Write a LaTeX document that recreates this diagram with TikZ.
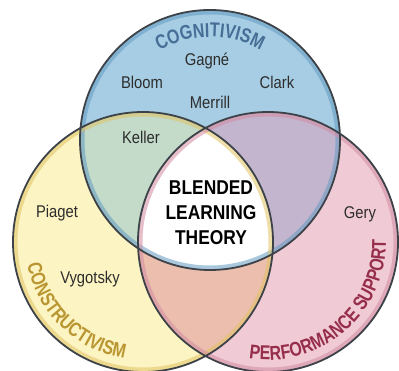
\documentclass[tikz,border=0pt]{standalone}
\usepackage{fontspec}
\usetikzlibrary{decorations.text}
\newfontfamily\condfont{Liberation Sans}[FakeStretch=0.87]
\newfontfamily\titlefont{Liberation Sans}[FakeStretch=0.8]

\definecolor{cogfill}{RGB}{166,205,227}
\definecolor{confill}{RGB}{252,244,194}
\definecolor{perffill}{RGB}{240,203,214}
\definecolor{greenfill}{RGB}{195,219,200}
\definecolor{purplefill}{RGB}{196,181,206}
\definecolor{orangefill}{RGB}{236,190,174}
\definecolor{cogrim}{RGB}{100,155,195}
\definecolor{conrim}{RGB}{225,195,100}
\definecolor{perfrim}{RGB}{210,140,162}
\definecolor{outlinegray}{RGB}{60,66,72}
\definecolor{namegray}{RGB}{45,45,45}
\definecolor{cogtext}{RGB}{70,110,150}
\definecolor{context}{RGB}{185,150,50}
\definecolor{perftext}{RGB}{150,45,75}

\begin{document}
\begin{tikzpicture}[x=1pt,y=1pt,
  person/.style={font=\condfont\fontsize{17}{18}\selectfont, text=namegray, anchor=base, inner sep=0pt},
  blendtext/.style={font=\condfont\bfseries\fontsize{20}{25}\selectfont, align=center, inner sep=0pt},
  rimline/.style={line width=9pt, opacity=0.55}]
\clip (0,0) rectangle (399,370);

\coordinate (cog) at (210,230);
\coordinate (con) at (143,128);
\coordinate (perf) at (268,128);

% circles
\fill[confill] (con) circle (130);
\fill[perffill] (perf) circle (130);
\fill[cogfill] (cog) circle (130);

% overlaps
\begin{scope}
\clip (cog) circle (130);
\fill[greenfill] (con) circle (130);
\fill[purplefill] (perf) circle (130);
\end{scope}
\begin{scope}
\clip (con) circle (130);
\fill[orangefill] (perf) circle (130);
\end{scope}
\begin{scope}
\clip (cog) circle (130);
\clip (con) circle (130);
\fill[white] (perf) circle (130);
\end{scope}

% rims
\begin{scope}
\clip (cog) circle (130);
\draw[rimline, cogrim] (cog) circle (130);
\end{scope}
\begin{scope}
\clip (con) circle (130);
\draw[rimline, conrim] (con) circle (130);
\end{scope}
\begin{scope}
\clip (perf) circle (130);
\draw[rimline, perfrim] (perf) circle (130);
\end{scope}

\draw[outlinegray, line width=1.8pt] (con) circle (130);
\draw[outlinegray, line width=1.8pt] (perf) circle (130);
\draw[outlinegray, line width=1.8pt] (cog) circle (130);

% titles
\path[decorate, decoration={text along path, text align=center,
  text={|\titlefont\bfseries\fontsize{20}{22}\selectfont\color{cogtext}|COGNITIVISM}}]
  (cog) ++(150:103) arc[start angle=150, end angle=30, radius=103];
\path[decorate, decoration={text along path, text align=center,
  text={|\titlefont\bfseries\fontsize{20}{22}\selectfont\color{context}|CONSTRUCTIVISM}}]
  (con) ++(176:118) arc[start angle=176, end angle=276, radius=118];
\path[decorate, decoration={text along path, text align=center,
  text={|\titlefont\bfseries\fontsize{20}{22}\selectfont\color{perftext}|PERFORMANCE SUPPORT}}]
  (perf) ++(230:118) arc[start angle=230, end angle=392, radius=118];

% names
\node[person] (gagne) at (207,304) {Gagné};
\node[person] (bloom) at (142,281) {Bloom};
\node[person] (clark) at (277,281) {Clark};
\node[person] (merrill) at (210,261) {Merrill};
\node[person] (keller) at (141,226) {Keller};
\node[person] (piaget) at (57,153) {Piaget};
\node[person] (vygotsky) at (90,87) {Vygotsky};
\node[person] (gery) at (360,152) {Gery};

\node[blendtext] (blend) at (211,157) {BLENDED\\LEARNING\\THEORY};
\end{tikzpicture}
\end{document}
